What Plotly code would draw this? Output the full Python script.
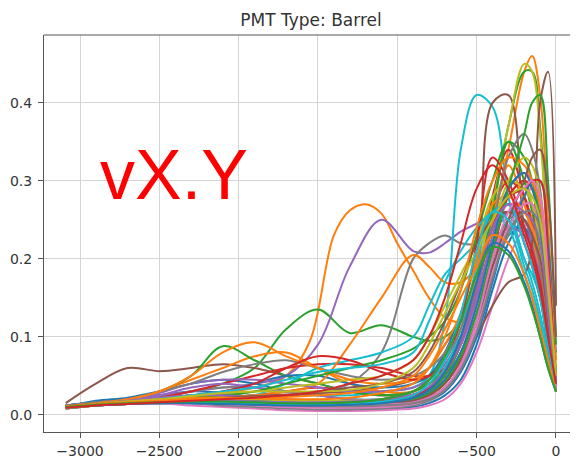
import plotly.graph_objects as go

x_pos = [-3090, -2900, -2700, -2500, -2300, -2100, -1900, -1700, -1500, -1300, -1100,
         -900, -800, -700, -600, -500, -400, -300, -200, -150, -100, -50, 0]
x_hump = [-3090, -2800, -2500, -2200, -1900, -1700, -1550, -1400, -1300, -1200, -1100,
          -1000, -900, -800, -700, -600, -500, -400, -300, -200, -100, -50, 0]

c00 = [0.012,0.016,0.020,0.025,0.030,0.028,0.022,0.015,0.010,0.008,0.008,0.010,0.015,0.025,0.045,0.090,0.160,0.220,0.250,0.230,0.180,0.10,0.035]
c01 = [0.010,0.016,0.020,0.025,0.035,0.050,0.095,0.230,0.262,0.270,0.258,0.220,0.185,0.150,0.125,0.120,0.150,0.200,0.250,0.270,0.200,0.12,0.045]
c02 = [0.010,0.014,0.018,0.022,0.030,0.040,0.060,0.110,0.135,0.105,0.115,0.100,0.095,0.100,0.120,0.160,0.210,0.250,0.260,0.230,0.180,0.10,0.04]
c03 = [0.008,0.012,0.015,0.018,0.020,0.022,0.025,0.030,0.035,0.030,0.025,0.030,0.040,0.060,0.100,0.170,0.260,0.300,0.280,0.240,0.180,0.10,0.035]
c04 = [0.012,0.016,0.020,0.025,0.030,0.035,0.040,0.050,0.090,0.190,0.250,0.210,0.208,0.220,0.235,0.245,0.255,0.260,0.240,0.210,0.160,0.09,0.04]
c05 = [0.015,0.040,0.060,0.056,0.060,0.065,0.060,0.050,0.040,0.030,0.025,0.030,0.040,0.060,0.100,0.150,0.220,0.260,0.250,0.220,0.160,0.09,0.035]
c06 = [0.010,0.014,0.016,0.015,0.012,0.010,0.008,0.006,0.005,0.005,0.006,0.008,0.012,0.020,0.040,0.080,0.140,0.200,0.240,0.250,0.220,0.13,0.03]
c07 = [0.012,0.015,0.018,0.022,0.030,0.035,0.035,0.030,0.030,0.040,0.080,0.200,0.220,0.230,0.220,0.220,0.240,0.260,0.250,0.230,0.190,0.11,0.04]
c08 = [0.008,0.012,0.015,0.018,0.020,0.018,0.015,0.012,0.010,0.010,0.012,0.020,0.030,0.050,0.090,0.150,0.220,0.280,0.300,0.270,0.210,0.12,0.04]
c09 = [0.010,0.014,0.016,0.018,0.020,0.022,0.025,0.025,0.025,0.025,0.030,0.035,0.050,0.120,0.340,0.410,0.395,0.280,0.200,0.180,0.150,0.09,0.04]
c10 = [0.010,0.018,0.022,0.030,0.040,0.045,0.040,0.030,0.025,0.020,0.020,0.025,0.035,0.050,0.080,0.130,0.190,0.230,0.240,0.220,0.170,0.09,0.03]
c11 = [0.012,0.016,0.020,0.030,0.045,0.060,0.075,0.080,0.060,0.040,0.030,0.030,0.040,0.060,0.100,0.160,0.250,0.340,0.440,0.460,0.410,0.25,0.06]
c12 = [0.010,0.015,0.020,0.030,0.050,0.088,0.070,0.050,0.040,0.030,0.025,0.030,0.040,0.060,0.100,0.170,0.260,0.370,0.440,0.440,0.370,0.20,0.05]
c13 = [0.008,0.012,0.016,0.022,0.030,0.040,0.050,0.060,0.065,0.065,0.060,0.050,0.050,0.060,0.090,0.160,0.280,0.340,0.280,0.240,0.190,0.11,0.04]
c14 = [0.010,0.014,0.018,0.025,0.035,0.040,0.035,0.030,0.025,0.020,0.018,0.020,0.030,0.050,0.090,0.150,0.220,0.260,0.250,0.220,0.180,0.11,0.04]
c15 = [0.010,0.014,0.016,0.018,0.020,0.022,0.025,0.025,0.028,0.030,0.035,0.045,0.060,0.090,0.120,0.170,0.400,0.410,0.240,0.210,0.170,0.10,0.04]
c16 = [0.012,0.015,0.018,0.020,0.022,0.020,0.018,0.016,0.015,0.015,0.018,0.025,0.035,0.055,0.090,0.140,0.200,0.250,0.280,0.290,0.260,0.16,0.035]
c17 = [0.010,0.013,0.015,0.016,0.015,0.012,0.010,0.008,0.007,0.007,0.008,0.012,0.018,0.030,0.060,0.110,0.180,0.230,0.260,0.260,0.230,0.14,0.04]
c18 = [0.010,0.014,0.017,0.020,0.022,0.022,0.020,0.018,0.016,0.016,0.020,0.030,0.045,0.070,0.110,0.180,0.270,0.370,0.450,0.440,0.360,0.20,0.05]
c19 = [0.008,0.012,0.014,0.016,0.018,0.020,0.025,0.040,0.060,0.070,0.080,0.100,0.140,0.180,0.200,0.220,0.240,0.250,0.200,0.170,0.130,0.08,0.03]
c20 = [0.012,0.016,0.018,0.020,0.025,0.030,0.040,0.050,0.050,0.040,0.035,0.040,0.050,0.080,0.130,0.200,0.260,0.270,0.220,0.190,0.150,0.09,0.035]
c21 = [0.010,0.013,0.015,0.018,0.020,0.022,0.025,0.030,0.040,0.090,0.150,0.205,0.190,0.170,0.170,0.190,0.240,0.320,0.270,0.230,0.180,0.11,0.04]
c22 = [0.010,0.014,0.016,0.018,0.020,0.020,0.018,0.016,0.015,0.015,0.016,0.020,0.030,0.050,0.090,0.160,0.260,0.350,0.300,0.260,0.210,0.12,0.04]
c23 = [0.009,0.012,0.014,0.015,0.016,0.015,0.014,0.013,0.012,0.012,0.014,0.018,0.025,0.040,0.070,0.120,0.200,0.280,0.300,0.290,0.250,0.15,0.04]
c24 = [0.011,0.015,0.020,0.028,0.040,0.045,0.045,0.040,0.035,0.030,0.030,0.035,0.045,0.065,0.100,0.150,0.210,0.240,0.230,0.210,0.180,0.11,0.035]
c25 = [0.010,0.013,0.015,0.016,0.016,0.015,0.014,0.013,0.012,0.012,0.013,0.016,0.022,0.035,0.060,0.100,0.140,0.170,0.180,0.220,0.400,0.44,0.14]
c26 = [0.010,0.013,0.016,0.018,0.020,0.022,0.022,0.020,0.018,0.016,0.016,0.020,0.028,0.045,0.080,0.140,0.220,0.270,0.260,0.240,0.200,0.12,0.035]
c27 = [0.012,0.016,0.020,0.030,0.040,0.055,0.065,0.070,0.060,0.050,0.045,0.050,0.060,0.080,0.120,0.180,0.240,0.260,0.250,0.230,0.190,0.11,0.04]
c28 = [0.010,0.013,0.015,0.018,0.022,0.025,0.030,0.035,0.040,0.045,0.050,0.070,0.100,0.140,0.180,0.220,0.280,0.300,0.290,0.270,0.220,0.13,0.04]
c29 = [0.009,0.012,0.014,0.015,0.015,0.014,0.013,0.012,0.012,0.013,0.016,0.024,0.035,0.060,0.110,0.190,0.260,0.240,0.180,0.150,0.110,0.07,0.03]
c30 = [0.010,0.013,0.015,0.016,0.016,0.015,0.013,0.012,0.011,0.011,0.012,0.015,0.020,0.030,0.055,0.100,0.170,0.240,0.280,0.300,0.300,0.22,0.08]
c31 = [0.011,0.015,0.020,0.030,0.050,0.080,0.093,0.075,0.060,0.045,0.040,0.045,0.060,0.090,0.130,0.200,0.270,0.280,0.260,0.240,0.200,0.12,0.04]
c32 = [0.010,0.014,0.017,0.020,0.023,0.025,0.030,0.040,0.050,0.060,0.070,0.085,0.100,0.120,0.160,0.230,0.300,0.350,0.330,0.300,0.250,0.15,0.05]
c33 = [0.009,0.013,0.016,0.020,0.025,0.030,0.040,0.060,0.075,0.070,0.055,0.045,0.050,0.070,0.120,0.220,0.330,0.300,0.240,0.210,0.170,0.10,0.035]
c34 = [0.010,0.014,0.018,0.022,0.025,0.025,0.022,0.020,0.018,0.018,0.020,0.026,0.035,0.055,0.090,0.150,0.230,0.290,0.310,0.300,0.270,0.17,0.05]
c35 = [0.011,0.014,0.016,0.018,0.020,0.022,0.024,0.026,0.030,0.035,0.040,0.055,0.080,0.120,0.170,0.220,0.250,0.260,0.250,0.230,0.200,0.12,0.04]
c36 = [0.010,0.012,0.014,0.015,0.015,0.014,0.012,0.010,0.009,0.009,0.010,0.014,0.020,0.032,0.060,0.110,0.180,0.240,0.270,0.270,0.240,0.14,0.03]
c37 = [0.010,0.013,0.015,0.017,0.018,0.018,0.017,0.016,0.015,0.016,0.020,0.030,0.045,0.070,0.110,0.170,0.240,0.330,0.360,0.340,0.290,0.17,0.05]
c38 = [0.009,0.012,0.014,0.016,0.018,0.020,0.020,0.019,0.018,0.018,0.020,0.025,0.035,0.055,0.095,0.160,0.240,0.300,0.330,0.320,0.280,0.16,0.045]
c39 = [0.010,0.014,0.017,0.020,0.025,0.030,0.035,0.045,0.055,0.060,0.065,0.080,0.120,0.170,0.210,0.240,0.260,0.270,0.220,0.190,0.150,0.09,0.035]
c40 = [0.011,0.014,0.016,0.017,0.017,0.016,0.015,0.014,0.013,0.013,0.015,0.020,0.028,0.045,0.080,0.140,0.220,0.290,0.310,0.290,0.240,0.14,0.04]
c41 = [0.010,0.014,0.017,0.020,0.022,0.022,0.021,0.020,0.020,0.022,0.028,0.040,0.060,0.100,0.160,0.240,0.300,0.330,0.320,0.300,0.270,0.20,0.07]
c42 = [0.010,0.013,0.015,0.017,0.018,0.017,0.016,0.015,0.014,0.014,0.016,0.020,0.027,0.042,0.075,0.130,0.210,0.290,0.360,0.400,0.410,0.30,0.09]
c43 = [0.010,0.013,0.015,0.016,0.017,0.016,0.015,0.014,0.014,0.015,0.018,0.024,0.034,0.055,0.095,0.160,0.240,0.280,0.290,0.300,0.300,0.20,0.04]
c44 = [0.010,0.013,0.015,0.017,0.018,0.018,0.017,0.016,0.016,0.017,0.020,0.026,0.036,0.056,0.095,0.160,0.240,0.270,0.260,0.250,0.220,0.13,0.04]
c45 = [0.011,0.014,0.016,0.017,0.017,0.016,0.015,0.014,0.013,0.013,0.014,0.018,0.025,0.040,0.070,0.120,0.190,0.250,0.300,0.330,0.340,0.28,0.10]
c46 = [0.010,0.013,0.015,0.016,0.016,0.015,0.014,0.013,0.012,0.012,0.013,0.016,0.022,0.035,0.065,0.120,0.200,0.260,0.290,0.300,0.280,0.18,0.035]
c47 = [0.010,0.012,0.014,0.015,0.015,0.014,0.013,0.012,0.011,0.011,0.012,0.015,0.020,0.032,0.058,0.105,0.175,0.235,0.260,0.260,0.240,0.15,0.04]
c48 = [0.010,0.014,0.017,0.020,0.024,0.028,0.030,0.030,0.030,0.032,0.040,0.060,0.090,0.130,0.170,0.210,0.250,0.280,0.290,0.280,0.250,0.16,0.05]
c49 = [0.010,0.013,0.015,0.016,0.016,0.015,0.014,0.013,0.013,0.014,0.017,0.025,0.040,0.070,0.130,0.210,0.260,0.250,0.190,0.160,0.120,0.07,0.03]
c50 = [0.010,0.012,0.014,0.015,0.015,0.014,0.013,0.012,0.012,0.013,0.015,0.022,0.032,0.055,0.100,0.170,0.220,0.210,0.170,0.140,0.100,0.06,0.03]
c51 = [0.011,0.014,0.016,0.018,0.020,0.021,0.022,0.023,0.025,0.028,0.035,0.050,0.075,0.110,0.150,0.190,0.230,0.220,0.180,0.150,0.110,0.07,0.03]
c52 = [0.010,0.013,0.015,0.016,0.017,0.017,0.016,0.015,0.015,0.016,0.020,0.030,0.045,0.075,0.120,0.180,0.215,0.205,0.165,0.135,0.100,0.06,0.03]
c53 = [0.009,0.012,0.014,0.016,0.018,0.020,0.022,0.025,0.030,0.040,0.050,0.070,0.100,0.150,0.220,0.290,0.320,0.290,0.230,0.200,0.160,0.10,0.04]

curves = [c00, c01, c02, c03, c04, c05, c06, c07, c08, c09,
          c10, c11, c12, c13, c14, c15, c16, c17, c18, c19,
          c20, c21, c22, c23, c24, c25, c26, c27, c28, c29,
          c30, c31, c32, c33, c34, c35, c36, c37, c38, c39,
          c40, c41, c42, c43, c44, c45, c46, c47, c48, c49,
          c50, c51, c52, c53]
own_x = {1: x_hump}

palette = ["#1f77b4", "#ff7f0e", "#2ca02c", "#d62728", "#9467bd",
           "#8c564b", "#e377c2", "#7f7f7f", "#bcbd22", "#17becf"]

x_ticks = [-3000, -2500, -2000, -1500, -1000, -500, 0]
x_labels = ["\u22123000", "\u22122500", "\u22122000", "\u22121500", "\u22121000", "\u2212500", "0"]
y_ticks = [0.0, 0.1, 0.2, 0.3, 0.4]
y_labels = ["0.0", "0.1", "0.2", "0.3", "0.4"]

fig = go.Figure()
for i, ys in enumerate(curves):
    fig.add_trace(go.Scatter(
        x=own_x.get(i, x_pos), y=ys, mode="lines",
        line=dict(color=palette[i % 10], width=2, shape="spline", smoothing=1.0),
        showlegend=False, hoverinfo="skip"))

W, H = 570, 451
axis_font = dict(family="DejaVu Sans", size=14, color="#333333")
fig.update_layout(
    width=W, height=H,
    margin=dict(l=36, r=0, t=27, b=27),
    paper_bgcolor="white", plot_bgcolor="white",
    title=dict(text="PMT Type: Barrel", x=0.5, xref="paper", xanchor="center",
               y=1 - 12 / H, yanchor="middle",
               font=dict(family="DejaVu Sans", size=17, color="#333333")),
    xaxis=dict(range=[-3227, 139], tickvals=x_ticks, ticktext=x_labels,
               showgrid=True, gridcolor="#d4d4d4", gridwidth=1, automargin=False,
               showline=True, linecolor="#555555", linewidth=1, mirror=False,
               ticks="outside", ticklen=5, tickcolor="#555555", ticklabelstandoff=1,
               tickfont=axis_font, zeroline=False),
    yaxis=dict(range=[-0.022, 0.487], tickvals=y_ticks, ticktext=y_labels,
               showgrid=True, gridcolor="#d4d4d4", gridwidth=1, automargin=False,
               showline=True, linecolor="#555555", linewidth=1, mirror=False,
               ticks="outside", ticklen=5, tickcolor="#555555", ticklabelstandoff=3,
               tickfont=axis_font, zeroline=False),
)
fig.add_shape(type="line", xref="paper", yref="paper", x0=0, x1=1, y0=1, y1=1,
              line=dict(color="#555555", width=1))
fig.add_annotation(text="vX.Y", xref="paper", yref="paper",
                   x=0.243, y=0.647,
                   xanchor="center", yanchor="middle", showarrow=False,
                   font=dict(family="Liberation Sans", size=70, color="#ff0000"))

fig.write_html("out.html")
